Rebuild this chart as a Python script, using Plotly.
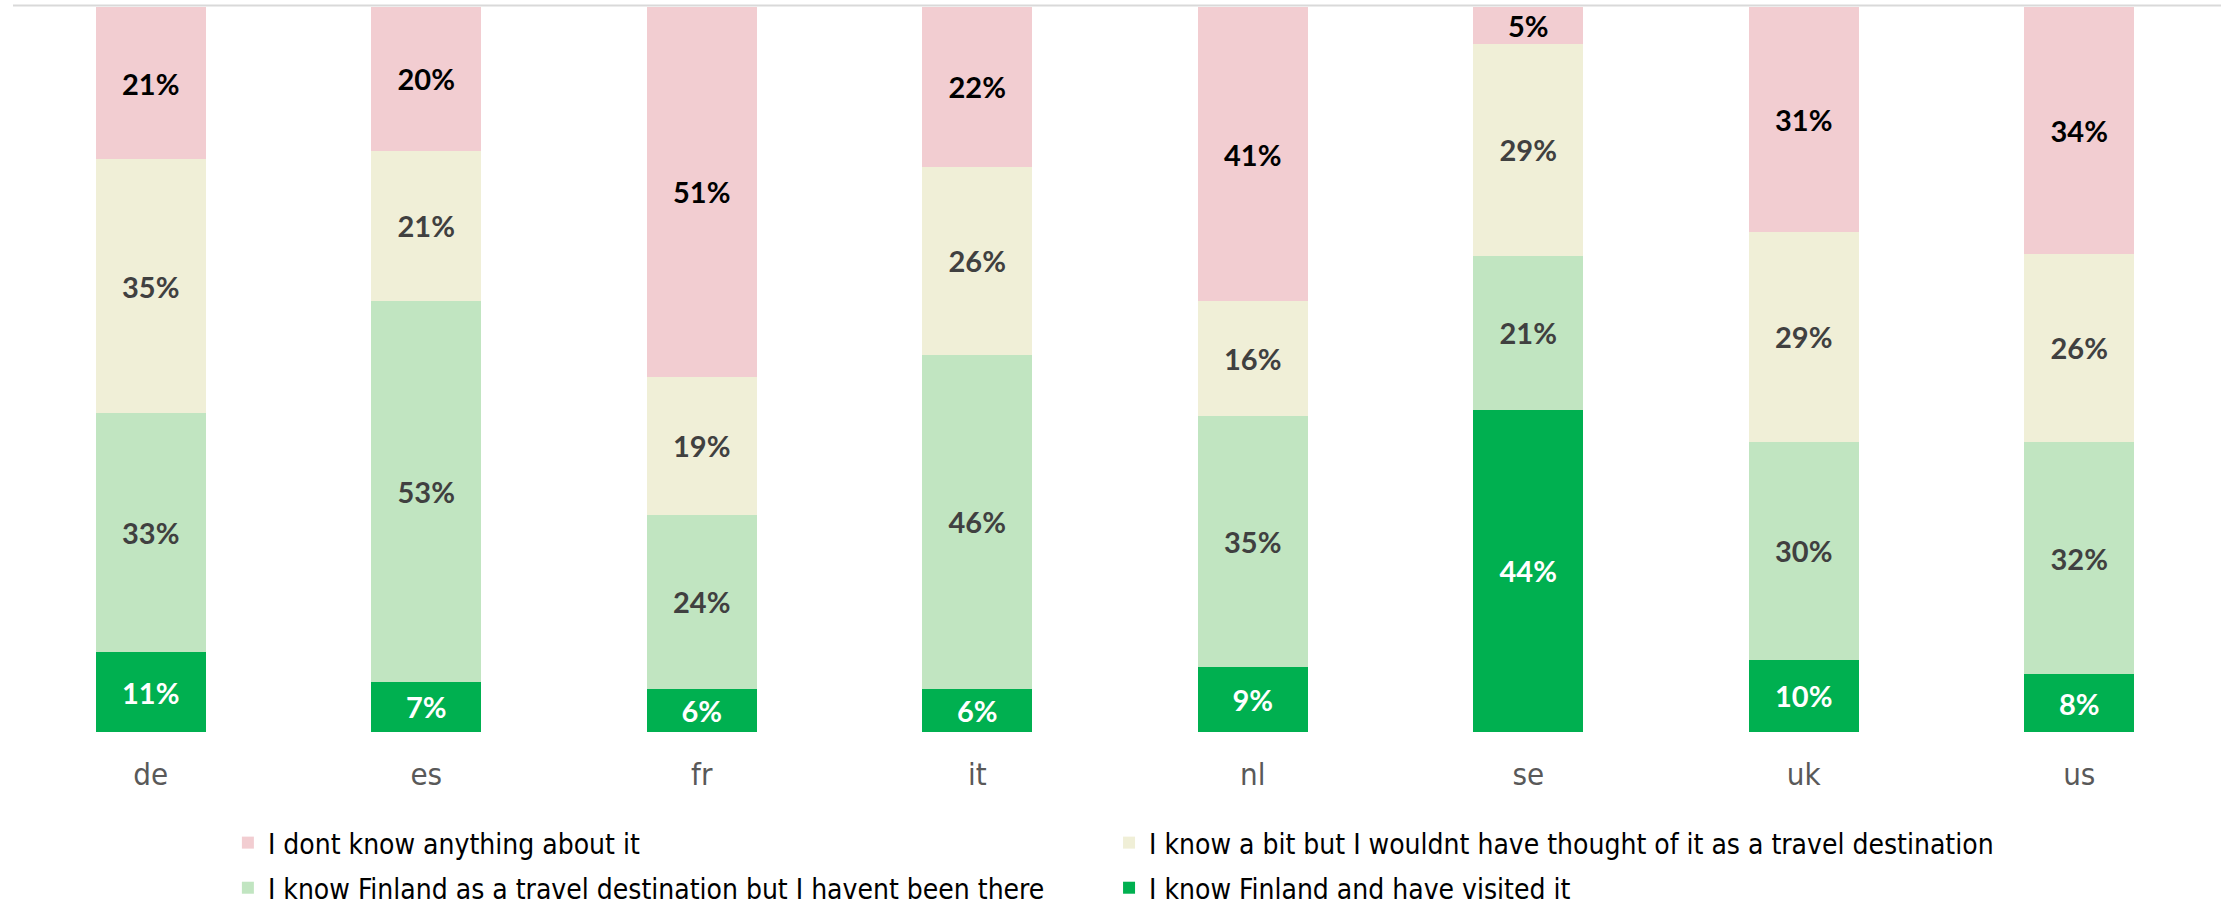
import plotly.graph_objects as go

# Survey: awareness of Finland as a travel destination, by market
markets = ["de", "es", "fr", "it", "nl", "se", "uk", "us"]

visited = [11, 7, 6, 6, 9, 44, 10, 8]
known_not_visited = [33, 53, 24, 46, 35, 21, 30, 32]
know_a_bit = [35, 21, 19, 26, 16, 29, 29, 26]
know_nothing = [21, 20, 51, 22, 41, 5, 31, 34]

series_names = [
    "I know Finland and have visited it",
    "I know Finland as a travel destination but I havent been there",
    "I know a bit but I wouldnt have thought of it as a travel destination",
    "I dont know anything about it",
]
series_values = [visited, known_not_visited, know_a_bit, know_nothing]
bar_colors = ["#00B050", "#C1E5C1", "#F0EFD7", "#F2CDD1"]
text_colors = ["#FFFFFF", "#404040", "#404040", "#000000"]
# one legend per entry so the 2x2 key can be laid out on a fixed grid
legend_ids = ["legend4", "legend3", "legend2", "legend"]

LABEL_FONT = "Century Gothic, Futura, Lato, sans-serif"
BODY_FONT = "Tw Cen MT Condensed, Liberation Sans Narrow, DejaVu Sans Condensed, Roboto Condensed, Lato, sans-serif"

fig = go.Figure()
for name, vals, col, tcol, lg in zip(series_names, series_values, bar_colors,
                                     text_colors, legend_ids):
    fig.add_trace(go.Bar(
        x=markets,
        y=vals,
        name=name,
        legend=lg,
        marker=dict(color=col, line=dict(width=0)),
        text=[f"{v}%" for v in vals],
        texttemplate="%{text}",
        textposition="inside",
        insidetextanchor="middle",
        textangle=0,
        constraintext="none",
        textfont=dict(family=LABEL_FONT, size=29, color=tcol, weight="bold"),
        hoverinfo="skip",
    ))

legend_common = dict(
    orientation="h",
    xanchor="left",
    yanchor="middle",
    font=dict(family=BODY_FONT, size=28, color="#000000"),
    bgcolor="rgba(0,0,0,0)",
)
col_x = [0.0975, 0.4973]
row_y = [-0.153, -0.2152]

fig.update_layout(
    barmode="stack",
    barnorm="percent",
    bargap=0.6,
    width=2221,
    height=906,
    margin=dict(l=13, r=4, t=7, b=174, autoexpand=False),
    paper_bgcolor="white",
    plot_bgcolor="white",
    font=dict(family=BODY_FONT, color="#000000"),
    showlegend=True,
    legend=dict(legend_common, x=col_x[0], y=row_y[0]),
    legend2=dict(legend_common, x=col_x[1], y=row_y[0]),
    legend3=dict(legend_common, x=col_x[0], y=row_y[1]),
    legend4=dict(legend_common, x=col_x[1], y=row_y[1]),
    xaxis=dict(
        showgrid=False,
        showline=False,
        zeroline=False,
        ticks="",
        ticklabelstandoff=21,
        tickfont=dict(family=BODY_FONT, size=31, color="#595959"),
    ),
    yaxis=dict(
        range=[0, 100],
        showgrid=False,
        showticklabels=False,
        zeroline=False,
        showline=False,
    ),
    shapes=[dict(
        type="line", xref="paper", yref="paper",
        x0=0, x1=1.002, y0=1.002, y1=1.002,
        line=dict(color="#D9D9D9", width=2),
        layer="above",
    )],
)

fig.write_html("out.html")
